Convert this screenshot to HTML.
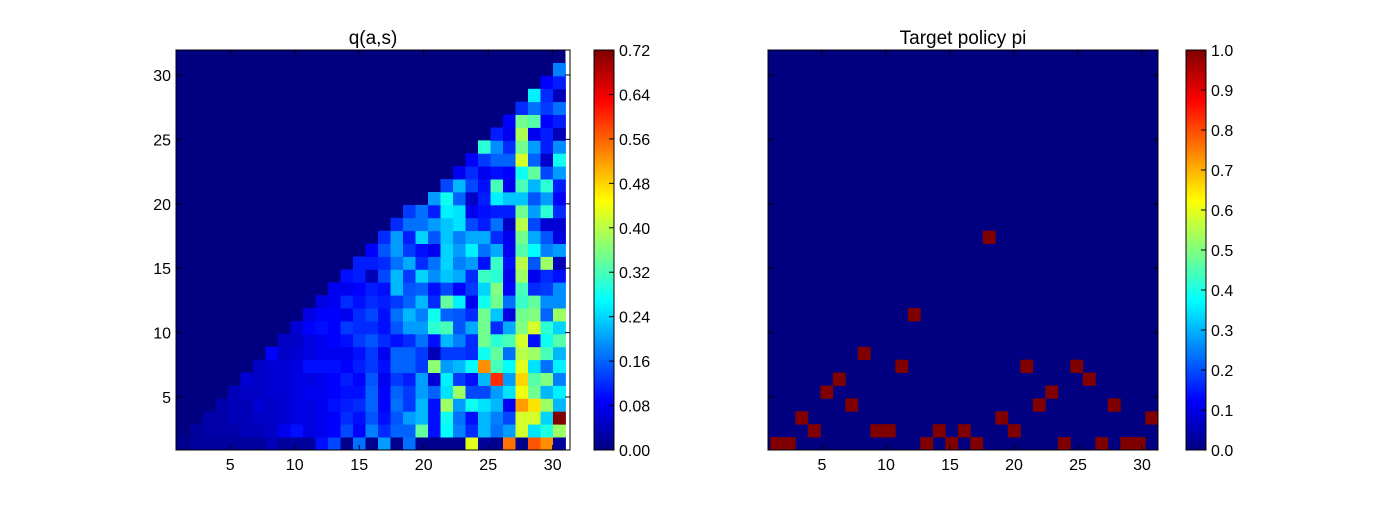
<!DOCTYPE html>
<html><head><meta charset="utf-8"><style>
html,body{margin:0;padding:0;background:#fff;}
svg text{font-family:"Liberation Sans","DejaVu Sans",sans-serif;}
</style></head><body>
<svg id="fig" width="1400" height="500" viewBox="0 0 1400 500" xmlns="http://www.w3.org/2000/svg">
<rect width="1400" height="500" fill="#fff"/>
<g id="left"></g>
<g id="right"></g>
<text x="373" y="44" font-size="19" text-anchor="middle">q(a,s)</text>
<text x="963" y="44" font-size="19" text-anchor="middle">Target policy pi</text>
</svg>
<script>
// q(a,s) data: each row r (bottom=0) starts at column qStart[r]
const qStart=[0,1,2,3,4,5,6,7,8,9,10,11,12,13,14,15,16,17,18,20,21,22,23,24,25,26,27,28,29,30,31];
const qVals=[
[.01,.02,.02,.02,.02,.02,.02,.04,.02,.02,.02,.1,.14,.01,.17,.01,.2,.01,.17,.01,.01,.01,.01,.43,.02,.01,.55,.01,.57,.53,.02],
[.02,.03,.03,.03,.04,.04,.05,.08,.1,.07,.08,.09,.14,.09,.18,.12,.16,.16,.34,.1,.27,.18,.12,.22,.17,.2,.42,.25,.29,.38],
[.03,.03,.04,.04,.05,.05,.06,.07,.07,.08,.09,.12,.1,.15,.1,.15,.2,.22,.1,.28,.17,.1,.22,.18,.14,.42,.42,.24,.72],
[.03,.04,.04,.06,.05,.06,.07,.07,.08,.1,.11,.12,.16,.09,.17,.13,.22,.1,.38,.2,.28,.25,.22,.08,.52,.47,.38,.22],
[.04,.05,.05,.06,.06,.07,.08,.08,.09,.1,.1,.16,.09,.16,.13,.2,.16,.25,.38,.14,.14,.2,.25,.44,.35,.22,.26],
[.06,.05,.06,.06,.07,.07,.08,.09,.11,.09,.15,.08,.13,.11,.2,.06,.26,.13,.1,.22,.6,.2,.48,.33,.36,.18],
[.05,.06,.06,.07,.1,.1,.1,.09,.11,.13,.1,.16,.16,.13,.37,.2,.22,.27,.53,.32,.27,.43,.25,.17,.26],
[.09,.05,.06,.07,.08,.08,.08,.1,.13,.08,.16,.16,.13,.04,.13,.13,.12,.28,.34,.17,.4,.38,.32,.22],
[.05,.05,.07,.08,.09,.1,.13,.15,.12,.1,.12,.17,.1,.22,.18,.12,.35,.3,.32,.42,.1,.28,.33],
[.06,.09,.1,.09,.13,.12,.12,.1,.15,.2,.2,.3,.32,.15,.21,.35,.12,.21,.36,.42,.3,.24],
[.07,.09,.09,.08,.12,.14,.1,.17,.22,.18,.28,.16,.15,.12,.35,.23,.07,.35,.36,.16,.38],
[.07,.08,.12,.1,.12,.11,.13,.16,.22,.12,.34,.26,.08,.28,.35,.17,.31,.34,.19,.19],
[.08,.08,.09,.11,.1,.22,.15,.16,.1,.14,.09,.13,.24,.36,.09,.32,.12,.13,.19],
[.1,.11,.04,.14,.22,.13,.24,.19,.23,.21,.12,.31,.3,.08,.38,.08,.12,.1],
[.11,.11,.12,.17,.21,.12,.17,.24,.18,.2,.1,.31,.1,.4,.15,.38,.04],
[.09,.15,.2,.13,.1,.08,.24,.2,.26,.17,.21,.08,.33,.27,.18,.2],
[.12,.2,.11,.24,.15,.23,.18,.21,.21,.12,.08,.35,.21,.15,.07],
[.12,.17,.17,.2,.23,.25,.14,.11,.17,.05,.4,.14,.06,.06],
[.13,.17,.11,.26,.25,.08,.1,.11,.11,.35,.2,.3,.12],
[.2,.28,.16,.05,.11,.26,.23,.23,.15,.2,.09],
[.14,.22,.14,.1,.32,.08,.32,.22,.3,.11],
[.08,.12,.08,.1,.09,.28,.34,.14,.2],
[.09,.13,.16,.16,.42,.16,.05,.28],
[.3,.19,.12,.35,.2,.11,.19],
[.11,.08,.39,.08,.11,.04],
[.09,.35,.33,.09,.11],
[.12,.17,.13,.17],
[.26,.12,.04],
[.09,.11],
[.18],
[]
];
// policy: for each column, the row index holding value 1
const piAction=[0,0,2,1,4,5,3,7,1,1,6,10,0,1,0,1,0,16,2,1,6,3,4,0,6,5,0,3,0,0,2];
const xTicks=[5,10,15,20,25,30];
const yTicks=[5,10,15,20,25,30];
const cbLeftTicks=["0.00","0.08","0.16","0.24","0.32","0.40","0.48","0.56","0.64","0.72"];
const cbRightTicks=["0.0","0.1","0.2","0.3","0.4","0.5","0.6","0.7","0.8","0.9","1.0"];
const qMax=0.72, NROW=31, NCOL=31;

const NS="http://www.w3.org/2000/svg";
function mk(tag,attrs,parent){const e=document.createElementNS(NS,tag);for(const k in attrs)e.setAttribute(k,attrs[k]);parent.appendChild(e);return e;}
function clip(v){return Math.max(0,Math.min(1,v));}
function jet(t){t=clip(t);const r=clip(1.5-Math.abs(4*t-3)),g=clip(1.5-Math.abs(4*t-2)),b=clip(1.5-Math.abs(4*t-1));
 return "rgb("+Math.round(r*255)+","+Math.round(g*255)+","+Math.round(b*255)+")";}

// panel geometry
const P={left:{x0:176,x1:570,cell0:178,cw:12.5,tx:v=>178.6+(v-1)*12.9,cb:594},
         right:{x0:768,x1:1158,cell0:770.3,cw:12.5,tx:v=>822+(v-5)*12.8,cb:1186}};
const Y0=50,Y1=450,RH=12.9;
function rowTop(r){return Y1-(r+1)*RH;}
function yTickPx(v){return 397-(v-5)*12.88;}

function drawPanel(g,p,valueAt,vmax,cbTicks,labels){
 mk('rect',{x:p.x0,y:Y0,width:p.x1-p.x0,height:Y1-Y0,fill:"#fff"},g);
 const bg=mk('rect',{x:p.x0,y:Y0,width:p.cell0+NCOL*p.cw-p.x0,height:Y1-Y0,fill:jet(0)},g);
 
 
 for(let r=0;r<NROW;r++)for(let c=0;c<NCOL;c++){
  const v=valueAt(r,c); if(!v)continue;
  const e=mk('rect',{x:p.cell0+c*p.cw,y:rowTop(r),width:p.cw+0.4,height:RH+0.4,fill:jet(v/vmax)},g);
  
  
 }
 const sp=mk('rect',{x:p.x0,y:Y0,width:p.x1-p.x0,height:Y1-Y0,fill:"none",stroke:"#000","stroke-width":1},g);
 
 
 xTicks.forEach(v=>{const x=p.tx(v);
  mk('line',{x1:x,x2:x,y1:Y1,y2:Y1-5,stroke:"#000"},g);
  mk('line',{x1:x,x2:x,y1:Y0,y2:Y0+5,stroke:"#000"},g);
  const t=mk('text',{x:x,y:Y1+20,"font-size":16,"text-anchor":"middle"},g);t.textContent=v;
  
  
 });
 yTicks.forEach(v=>{const y=yTickPx(v);
  mk('line',{x1:p.x0,x2:p.x0+5,y1:y,y2:y,stroke:"#000"},g);
  mk('line',{x1:p.x1,x2:p.x1-5,y1:y,y2:y,stroke:"#000"},g);
  if(labels){const t=mk('text',{x:p.x0-5,y:y+6,"font-size":16,"text-anchor":"end"},g);t.textContent=v;
   
   }
 });
 // colorbar
 const cb=mk('g',{},g);
 
 
 const N=200;
 for(let i=0;i<N;i++){mk('rect',{x:p.cb,y:Y1-(i+1)*(Y1-Y0)/N,width:20,height:(Y1-Y0)/N+0.5,fill:jet((i+0.5)/N)},cb);}
 mk('rect',{x:p.cb,y:Y0,width:20,height:Y1-Y0,fill:"none",stroke:"#000"},cb);
 cbTicks.forEach((s,i)=>{const y=Y1-i*(Y1-Y0)/(cbTicks.length-1);
  mk('line',{x1:p.cb+20,x2:p.cb+15,y1:y,y2:y,stroke:"#000"},cb);
  const t=mk('text',{x:p.cb+25,y:y+6,"font-size":16},cb);t.textContent=s;
  
  
 });
}
drawPanel(document.getElementById('left'),P.left,(r,c)=>{const s=qStart[r],a=qVals[r];return (c>=s&&c-s<a.length)?a[c-s]:0;},qMax,cbLeftTicks,true);
drawPanel(document.getElementById('right'),P.right,(r,c)=>piAction[c]===r?1:0,1,cbRightTicks,false);
</script>
</body></html>
